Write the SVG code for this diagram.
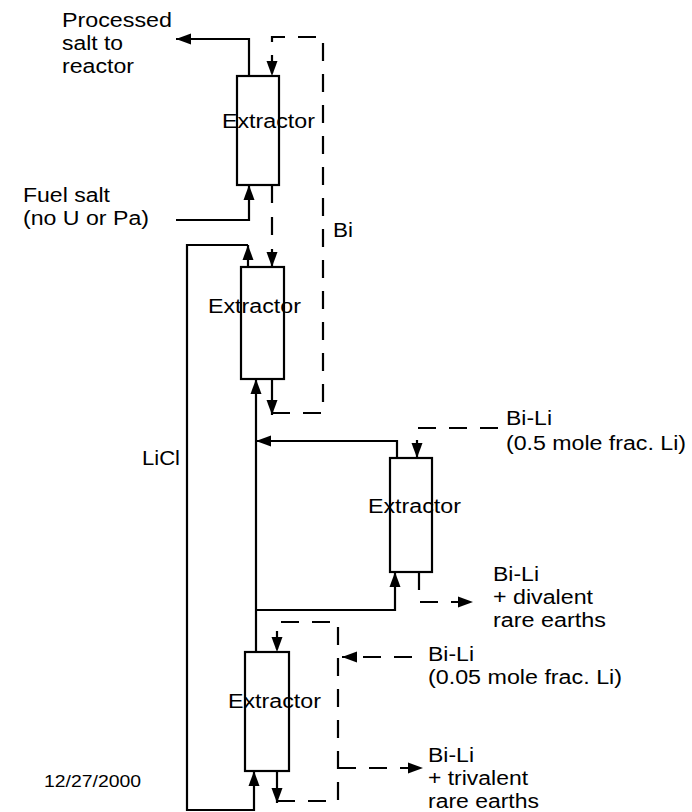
<svg xmlns="http://www.w3.org/2000/svg" width="692" height="812" viewBox="0 0 692 812">
<style>
text{font-family:"Liberation Sans",Arial,sans-serif;font-size:20px;fill:#000}
.date{font-size:16px}
.box{fill:none;stroke:#000;stroke-width:2.2}
.s{fill:none;stroke:#000;stroke-width:2.2}
.d{fill:none;stroke:#000;stroke-width:2.2;stroke-dasharray:18 13}
.a{marker-end:url(#ah)}
</style>
<defs>
<marker id="ah" markerUnits="userSpaceOnUse" markerWidth="16" markerHeight="12" refX="15" refY="6" orient="auto" viewBox="0 0 16 12">
<path d="M0,0.5 L15,6 L0,11.5 z" fill="#000"/>
</marker>
</defs>
<rect width="692" height="812" fill="#fff"/>
<g id="connectors">
<path class="s a" d="M249,76 V39 H176"/>
<path class="s a" d="M176,220 H249 V185"/>
<path class="s a" d="M248,267 V245"/>
<path class="s a" d="M248,245 H187 V810 H254 V771"/>
<path class="s a" d="M256,652 V379"/>
<path class="s a" d="M397,458 V441 H256"/>
<path class="s a" d="M256,610 H395 V572"/>
<path class="d a" d="M272,185 V267" style="stroke-dasharray:18 14"/>
<path class="s a" d="M272,379 V415"/>
<path class="d a" d="M272,413 H323 V37 H272 V76"/>
<path class="d a" d="M498,428 H417 V458"/>
<path class="d a" d="M419,572 V602 H473"/>
<path class="s a" d="M277,771 V803"/>
<path class="d a" d="M277,801 H338 V622 H277 V652"/>
<path class="d a" d="M412,657 H342"/>
<path class="d a" d="M338,768 H423"/>
</g>
<g id="extractor1">
<rect class="box" x="237" y="76" width="42" height="109"/>
<text x="222" y="128" textLength="93" lengthAdjust="spacingAndGlyphs">Extractor</text>
</g>
<g id="extractor2">
<rect class="box" x="241" y="267" width="43" height="112"/>
<text x="208" y="313" textLength="93" lengthAdjust="spacingAndGlyphs">Extractor</text>
</g>
<g id="extractor3">
<rect class="box" x="390" y="458" width="42" height="114"/>
<text x="368" y="513" textLength="93" lengthAdjust="spacingAndGlyphs">Extractor</text>
</g>
<g id="extractor4">
<rect class="box" x="245" y="652" width="44" height="119"/>
<text x="228" y="708" textLength="93" lengthAdjust="spacingAndGlyphs">Extractor</text>
</g>
<g id="labels">
<text x="62" y="27" textLength="110" lengthAdjust="spacingAndGlyphs">Processed</text>
<text x="62" y="50" textLength="61" lengthAdjust="spacingAndGlyphs">salt to</text>
<text x="62" y="73" textLength="72" lengthAdjust="spacingAndGlyphs">reactor</text>
<text x="23" y="202" textLength="87" lengthAdjust="spacingAndGlyphs">Fuel salt</text>
<text x="23" y="225" textLength="126" lengthAdjust="spacingAndGlyphs">(no U or Pa)</text>
<text x="333" y="237" textLength="20" lengthAdjust="spacingAndGlyphs">Bi</text>
<text x="142" y="465" textLength="38" lengthAdjust="spacingAndGlyphs">LiCl</text>
<text x="506" y="425" textLength="46" lengthAdjust="spacingAndGlyphs">Bi-Li</text>
<text x="506" y="450" textLength="180" lengthAdjust="spacingAndGlyphs">(0.5 mole frac. Li)</text>
<text x="493" y="581" textLength="46" lengthAdjust="spacingAndGlyphs">Bi-Li</text>
<text x="493" y="604" textLength="100" lengthAdjust="spacingAndGlyphs">+ divalent</text>
<text x="493" y="627" textLength="113" lengthAdjust="spacingAndGlyphs">rare earths</text>
<text x="428" y="661" textLength="46" lengthAdjust="spacingAndGlyphs">Bi-Li</text>
<text x="428" y="684" textLength="194" lengthAdjust="spacingAndGlyphs">(0.05 mole frac. Li)</text>
<text x="428" y="762" textLength="46" lengthAdjust="spacingAndGlyphs">Bi-Li</text>
<text x="428" y="785" textLength="100" lengthAdjust="spacingAndGlyphs">+ trivalent</text>
<text x="428" y="808" textLength="111" lengthAdjust="spacingAndGlyphs">rare earths</text>
<text class="date" x="44" y="787" textLength="97" lengthAdjust="spacingAndGlyphs">12/27/2000</text>
</g>
</svg>
